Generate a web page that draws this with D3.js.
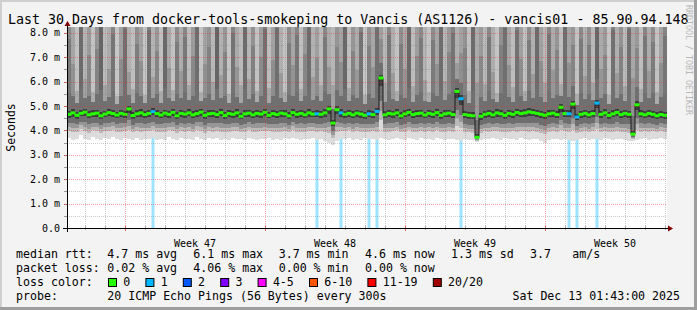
<!DOCTYPE html>
<html>
<head>
<meta charset="utf-8">
<script src="https://cdn.jsdelivr.net/npm/d3@7"></script>
<style>
  body { margin: 0; background: #f3f3f3; }
  svg { display: block; font-family: "DejaVu Sans Mono", monospace; }
</style>
</head>
<body>
<div id="chart"></div>
<script>
// 1. data: one value per 4.8 h step, 30 days, rtt in ms
const startTime = Date.UTC(2025, 10, 14, 2, 24)
const stepMs = 4.8 * 3600 * 1000

const median = [
  4.66,4.72,4.62,4.70,4.75,4.64,4.68,4.71,4.60,4.67,
  4.73,4.69,4.63,4.70,4.66,4.88,4.61,4.68,4.72,4.65,
  4.70,4.77,4.69,4.63,4.71,4.66,4.74,4.60,4.70,4.67,
  4.72,4.64,4.69,4.75,4.62,4.68,4.70,4.65,4.73,4.61,
  4.69,4.66,4.72,4.58,4.68,4.71,4.64,4.70,4.67,4.74,
  4.62,4.69,4.65,4.71,4.68,4.60,4.73,4.66,4.70,4.64,
  4.72,4.67,4.68,4.66,4.72,4.88,4.30,4.85,4.72,4.66,
  4.70,4.64,4.71,4.67,4.62,4.68,4.65,4.78,6.15,4.64,
  4.70,4.67,4.72,4.60,4.68,4.74,4.65,4.69,4.71,4.63,
  4.70,4.66,4.73,4.62,4.68,4.71,4.65,5.60,5.30,4.65,
  4.62,4.60,3.72,4.58,4.66,4.70,4.64,4.72,4.68,4.62,
  4.70,4.66,4.74,4.69,4.72,4.76,4.73,4.70,4.66,4.62,
  4.68,4.71,4.65,4.95,4.69,4.68,5.08,4.55,4.66,4.70,
  4.64,4.69,5.12,4.66,4.72,4.62,4.68,4.74,4.65,4.70,
  4.66,3.85,5.05,4.68,4.64,4.70,4.66,4.60,4.65,4.62
]

// lowest ping of each step (bottom of the smoke)
const minRtt = [
  3.70,3.62,3.66,3.80,3.64,3.60,3.72,3.65,3.62,3.68,
  3.63,3.75,3.66,3.61,3.70,3.64,3.62,3.67,3.60,3.66,
  3.64,3.70,3.62,3.66,3.61,3.72,3.65,3.60,3.68,3.63,
  3.66,3.62,3.74,3.64,3.61,3.67,3.63,3.70,3.62,3.65,
  3.60,3.68,3.63,3.66,3.62,3.71,3.64,3.61,3.66,3.63,
  3.69,3.62,3.65,3.60,3.67,3.63,3.70,3.64,3.61,3.66,
  3.63,3.68,3.62,3.66,3.58,3.50,3.40,3.55,3.64,3.66,
  3.70,3.62,3.65,3.61,3.67,3.63,3.66,3.60,3.68,3.64,
  3.62,3.66,3.70,3.63,3.61,3.68,3.64,3.62,3.67,3.63,
  3.65,3.61,3.69,3.64,3.62,3.66,3.63,3.60,3.58,3.64,
  3.62,3.60,3.52,3.62,3.66,3.63,3.70,3.64,3.61,3.67,
  3.63,3.66,3.62,3.68,3.64,3.61,3.66,3.63,3.55,3.50,
  3.62,3.66,3.63,3.60,3.65,3.62,3.58,3.60,3.64,3.67,
  3.62,3.66,3.63,3.61,3.68,3.64,3.62,3.66,3.63,3.60,
  3.58,3.55,3.60,3.64,3.67,3.62,3.66,3.63,3.70,3.65
]

// upper ping spread of each step (reaches above the top of the graph)
const upperRtt = [
  12.0,9.5,7.0,13.5,8.0,10.5,6.8,11.0,14.0,7.5,
  9.0,12.5,6.5,10.0,13.0,8.5,7.2,11.5,9.8,6.6,
  12.8,8.2,10.8,7.0,13.8,9.2,6.9,11.8,8.8,12.2,
  7.4,10.4,13.2,6.7,9.6,11.2,7.8,14.2,8.4,10.8,
  6.6,12.6,9.2,7.6,13.6,8.0,11.4,6.9,10.2,12.9,
  7.3,9.9,13.1,8.6,6.8,11.7,9.4,12.4,7.1,10.6,
  13.4,8.3,10.1,7.5,12.1,9.0,8.0,11.0,9.7,13.9,
  7.2,10.9,8.9,12.7,6.6,11.3,9.3,13.0,10.0,7.7,
  12.3,8.7,6.9,11.6,9.1,13.7,7.4,10.3,12.0,8.1,
  6.8,11.9,9.5,13.3,7.9,10.7,12.6,8.4,9.8,11.1,
  7.0,13.6,9.0,10.5,7.6,12.2,8.8,6.7,11.4,13.1,
  9.4,7.3,12.8,10.0,6.9,11.8,8.5,13.5,9.9,7.8,
  12.5,8.9,11.0,7.2,13.2,9.6,10.8,6.8,12.0,8.3,
  11.5,7.7,13.8,9.1,10.4,6.6,12.9,8.6,11.2,7.4,
  13.0,9.3,10.6,7.1,12.3,8.8,11.7,6.9,9.7,12.4
]

// steps with lost pings (index, pings lost of 20)
const lossAt = [21, 62, 68, 75, 77, 98, 125, 127, 132]
const lossPings = [1, 1, 1, 1, 1, 1, 1, 1, 1]

const lossLabels = ["0", "1", "2", "3", "4-5", "6-10", "11-19", "20/20"]
const lossColors = ["#26ff00", "#00b8ff", "#0059ff", "#7e00ff", "#ff00ff", "#ff5500", "#ff0000", "#a10000"]

const yTicks = [0, 1, 2, 3, 4, 5, 6, 7, 8]
const weekStarts = [Date.UTC(2025, 10, 17), Date.UTC(2025, 10, 24), Date.UTC(2025, 11, 1), Date.UTC(2025, 11, 8)]
const weekLabels = ["Week 47", "Week 48", "Week 49", "Week 50"]

const titleText = "Last 30 Days from docker-tools-smokeping to Vancis (AS1126) - vancis01 - 85.90.94.148"
const rttStats = ["4.7 ms avg", "6.1 ms max", "3.7 ms min", "4.6 ms now", "1.3 ms sd", "3.7", "am/s"]
const lossStats = ["0.02 % avg", "4.06 % max", "0.00 % min", "0.00 % now"]
const probeText = "20 ICMP Echo Pings (56 Bytes) every 300s"
const dateText = "Sat Dec 13 01:43:00 2025"

// 2. svg + frame
const width = 697
const height = 310
const plot = {left: 67, right: 667, top: 27, bottom: 228}

const svg = d3.select("#chart").append("svg")
  .attr("width", width)
  .attr("height", height)

svg.append("rect").attr("width", width).attr("height", height).attr("fill", "#f3f3f3")
svg.append("path").attr("d", `M0,0H${width}V2H2V${height}H0Z`).attr("fill", "#cfcfcf")
svg.append("path").attr("d", `M${width},${height}H0V${height - 3}H${width - 3}V0H${width}Z`).attr("fill", "#9e9e9e")

// 3. scales
const x = d3.scaleUtc()
  .domain([new Date(startTime), new Date(startTime + 150 * stepMs)])
  .range([plot.left, plot.right])
const y = d3.scaleLinear().domain([0, 8.24]).range([plot.bottom, plot.top])
// wider ping spread -> darker smoke column
const upperShade = d3.scaleLinear().domain([6.5, 14.2]).range(["#c6c6c6", "#727272"])

const lossBucket = n => n <= 3 ? n : n <= 5 ? 4 : n <= 10 ? 5 : n < 20 ? 6 : 7
const loss = median.map(() => 0)
lossAt.forEach((idx, k) => { loss[idx] = lossPings[k] })

const steps = median.map((m, i) => ({
  x0: x(new Date(startTime + i * stepMs)),
  x1: x(new Date(startTime + (i + 1) * stepMs)),
  med: m, lo: minRtt[i], hi: upperRtt[i], loss: loss[i]
}))

svg.append("rect")
  .attr("x", plot.left).attr("y", plot.top)
  .attr("width", plot.right - plot.left).attr("height", plot.bottom - plot.top)
  .attr("fill", "#ffffff")

svg.append("clipPath").attr("id", "clip")
  .append("rect")
  .attr("x", plot.left).attr("y", plot.top)
  .attr("width", plot.right - plot.left).attr("height", plot.bottom - plot.top)

const g = svg.append("g").attr("clip-path", "url(#clip)")

// 4. loss bars behind the smoke
g.selectAll(".lossbar")
  .data(steps.filter(d => d.loss > 0))
  .enter().append("rect")
  .attr("class", "lossbar")
  .attr("x", d => d.x0 + 0.5)
  .attr("width", d => d.x1 - d.x0 - 1)
  .attr("y", plot.top)
  .attr("height", plot.bottom - plot.top)
  .attr("fill", d => d3.interpolateRgb(lossColors[lossBucket(d.loss)], "#ffffff")(0.62))

// 5. smoke: bands between the pings and the median, darker near the median
const lowBands = [[0, "#dcdcdc"], [0.3, "#bababa"], [0.45, "#979797"], [0.62, "#6e6e6e"], [0.86, "#3e3e3e"]]

const smoke = []
steps.forEach(d => {
  const shade = upperShade(d.hi)
  smoke.push({x0: d.x0, x1: d.x1, v0: d.med, v1: 9, c: shade})
  smoke.push({x0: d.x0, x1: d.x1, v0: d.med, v1: d.med + (d.hi - d.med) * 0.42, c: d3.color(shade).darker(0.35)})
  smoke.push({x0: d.x0, x1: d.x1, v0: d.med, v1: d.med + 0.3 + (d.hi - d.med) * 0.08, c: "#707070"})
  smoke.push({x0: d.x0, x1: d.x1, v0: d.med, v1: d.med + 0.14, c: "#3e3e3e"})
  lowBands.forEach(([f, c]) => smoke.push({x0: d.x0, x1: d.x1, v0: d.lo + (d.med - d.lo) * f, v1: d.med, c}))
})

g.selectAll(".smoke")
  .data(smoke)
  .enter().append("rect")
  .attr("class", "smoke")
  .attr("x", d => d.x0)
  .attr("width", d => d.x1 - d.x0)
  .attr("y", d => y(d.v1))
  .attr("height", d => y(d.v0) - y(d.v1))
  .attr("fill", d => d.c)
  .attr("shape-rendering", "crispEdges")

// 6. median: dark steps, then coloured by loss
g.append("path")
  .datum(steps.concat([{x0: steps[steps.length - 1].x1, med: median[median.length - 1]}]))
  .attr("d", d3.line().x(d => d.x0).y(d => y(d.med)).curve(d3.curveStepAfter))
  .attr("fill", "none")
  .attr("stroke", "#1a1a1a")
  .attr("stroke-width", 1)

g.selectAll(".med")
  .data(steps)
  .enter().append("line")
  .attr("class", "med")
  .attr("x1", d => d.x0 - 0.5)
  .attr("x2", d => d.x1 + 0.5)
  .attr("y1", d => y(d.med))
  .attr("y2", d => y(d.med))
  .attr("stroke", d => lossColors[lossBucket(d.loss)])
  .attr("stroke-width", 3)

// 7. grid on top
const halfSteps = d3.range(0.5, 8.5, 0.5)
g.selectAll(".hgrid")
  .data(halfSteps)
  .enter().append("line")
  .attr("x1", plot.left).attr("x2", plot.right)
  .attr("y1", d => Math.round(y(d)) + 0.5).attr("y2", d => Math.round(y(d)) + 0.5)
  .attr("stroke", d => d % 1 === 0 ? "rgba(235,40,40,0.42)" : "rgba(120,120,120,0.38)")
  .attr("stroke-dasharray", "1,1")

const days = x.ticks(d3.utcDay.every(1))
g.selectAll(".vgrid")
  .data(days)
  .enter().append("line")
  .attr("x1", d => Math.round(x(d)) + 0.5).attr("x2", d => Math.round(x(d)) + 0.5)
  .attr("y1", plot.top).attr("y2", plot.bottom)
  .attr("stroke", d => d.getUTCDay() === 1 ? "rgba(235,40,40,0.42)" : "rgba(120,120,120,0.38)")
  .attr("stroke-dasharray", "1,1")

// 8. axes
svg.selectAll(".ytick")
  .data(halfSteps.concat([0]))
  .enter().append("line")
  .attr("x1", plot.left - 3).attr("x2", plot.left)
  .attr("y1", d => Math.round(y(d)) + 0.5).attr("y2", d => Math.round(y(d)) + 0.5)
  .attr("stroke", d => d % 1 === 0 ? "#d06060" : "#999")

svg.selectAll(".xtick")
  .data(days)
  .enter().append("line")
  .attr("x1", d => Math.round(x(d)) + 0.5).attr("x2", d => Math.round(x(d)) + 0.5)
  .attr("y1", plot.bottom - 2).attr("y2", d => d.getUTCDay() === 1 ? plot.bottom + 3 : plot.bottom + 2)
  .attr("stroke", d => d.getUTCDay() === 1 ? "#e06060" : "#aaa")

svg.append("line")
  .attr("x1", plot.left - 4).attr("x2", plot.right + 2)
  .attr("y1", plot.bottom + 0.5).attr("y2", plot.bottom + 0.5)
  .attr("stroke", "#000")
svg.append("line")
  .attr("x1", plot.left + 0.5).attr("x2", plot.left + 0.5)
  .attr("y1", plot.bottom + 4).attr("y2", plot.top - 5)
  .attr("stroke", "#000")
svg.append("path")
  .attr("d", `M${plot.right + 1},${plot.bottom - 2.5}L${plot.right + 6},${plot.bottom + 0.5}L${plot.right + 1},${plot.bottom + 3.5}Z`)
  .attr("fill", "#7f0000")
svg.append("path")
  .attr("d", `M${plot.left - 2.5},${plot.top - 1}L${plot.left + 0.5},${plot.top - 6}L${plot.left + 3.5},${plot.top - 1}Z`)
  .attr("fill", "#7f0000")

svg.selectAll(".ylabel")
  .data(yTicks)
  .enter().append("text")
  .attr("x", 60)
  .attr("y", d => y(d) + 3.5)
  .attr("text-anchor", "end")
  .attr("font-size", "10px")
  .attr("fill", "#000")
  .text(d => d === 0 ? "0.0" : d.toFixed(1) + " m")

svg.selectAll(".week")
  .data(weekStarts)
  .enter().append("text")
  .attr("x", d => x(new Date(d + 3.5 * 86400000)))
  .attr("y", 246.5)
  .attr("text-anchor", "middle")
  .attr("font-size", "10px")
  .text((d, i) => weekLabels[i])

svg.append("text")
  .attr("transform", "translate(14.5,127.5) rotate(-90)")
  .attr("text-anchor", "middle")
  .attr("font-size", "11.5px")
  .text("Seconds")

// 9. title, watermark, legend
svg.append("text")
  .attr("x", 8).attr("y", 24)
  .attr("font-size", "13.3px")
  .text(titleText)

svg.append("text")
  .attr("transform", "translate(686,5) rotate(90)")
  .attr("font-size", "8.3px")
  .attr("fill", "#b8b8b8")
  .text("RRDTOOL / TOBI OETIKER")

const legendFont = "11.6px"
const statX = [107.3, 193.3, 278.7, 365, 451, 530, 572.3]
const rows = [258, 272, 285.5, 299.5]

const row = (yy, label) => svg.append("text").attr("x", 16).attr("y", yy).attr("font-size", legendFont).text(label)
row(rows[0], "median rtt:")
row(rows[1], "packet loss:")
row(rows[2], "loss color:")
row(rows[3], "probe:")

svg.selectAll(".rtt")
  .data(rttStats)
  .enter().append("text")
  .attr("x", (d, i) => statX[i]).attr("y", rows[0])
  .attr("font-size", legendFont)
  .text(d => d)

svg.selectAll(".lossstat")
  .data(lossStats)
  .enter().append("text")
  .attr("x", (d, i) => statX[i]).attr("y", rows[1])
  .attr("font-size", legendFont)
  .text(d => d)

let bx = 108.5
lossLabels.forEach((lab, i) => {
  svg.append("rect")
    .attr("x", bx).attr("y", 278.5)
    .attr("width", 8).attr("height", 8)
    .attr("fill", lossColors[i])
    .attr("stroke", "#000")
  svg.append("text")
    .attr("x", bx + 14.8).attr("y", rows[2])
    .attr("font-size", legendFont)
    .text(lab)
  bx += 14.8 + lab.length * 7 + 15.6
})

svg.append("text").attr("x", statX[0]).attr("y", rows[3]).attr("font-size", legendFont).text(probeText)
svg.append("text").attr("x", 680).attr("y", rows[3]).attr("text-anchor", "end").attr("font-size", legendFont).text(dateText)
</script>
</body>
</html>
